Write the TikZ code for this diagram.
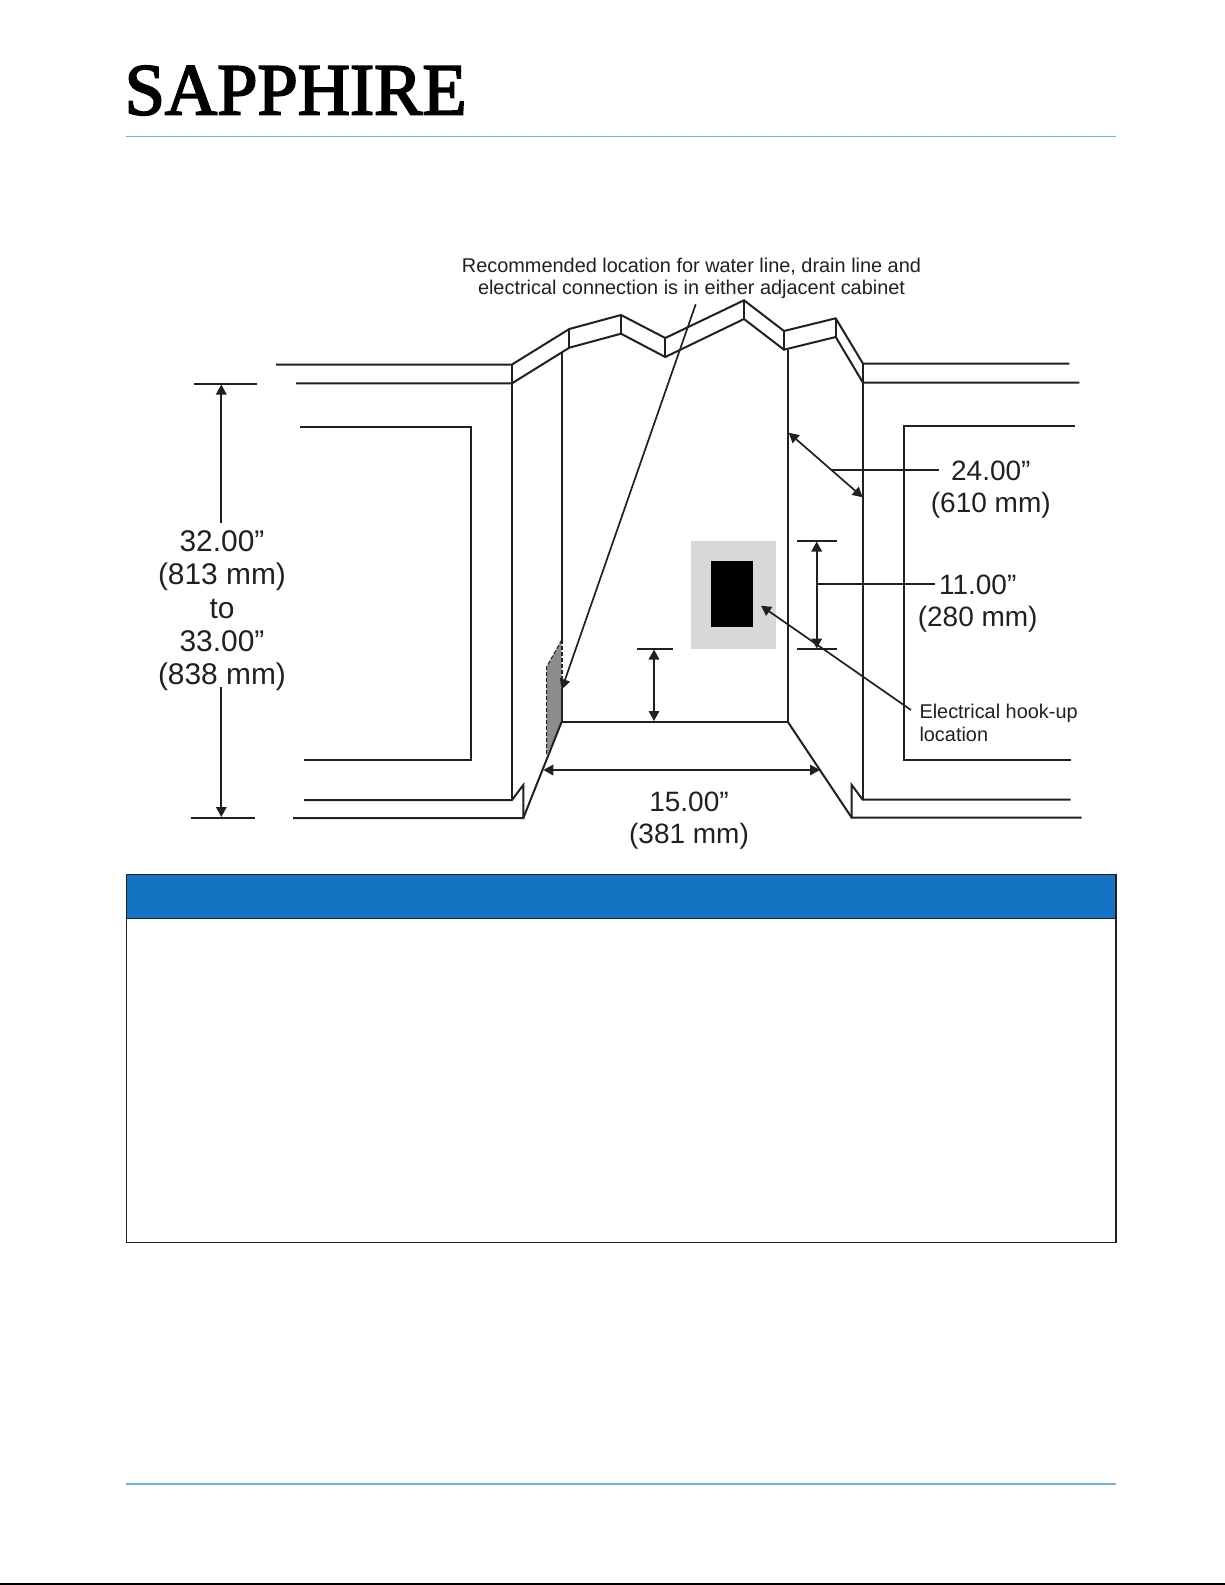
\documentclass[tikz,border=0pt]{standalone}
\usepackage{fontspec}
\setmainfont{Liberation Sans}
\newfontfamily\logofont[FakeBold=2.6]{Liberation Serif}
\usetikzlibrary{arrows.meta}
\definecolor{ink}{HTML}{231F20}
\definecolor{rule}{HTML}{6FB0E8}
\definecolor{band}{HTML}{1573C4}
\definecolor{pale}{HTML}{D8D8D8}
\definecolor{patch}{HTML}{8C8C8C}
\tikzset{
  wall/.style={draw=ink,line width=2pt,line cap=butt,line join=miter},
  dim/.style={draw=ink,line width=1.7pt,{Triangle[length=10pt,width=10.5pt]}-{Triangle[length=10pt,width=10.5pt]}},
  one/.style={draw=ink,line width=1.7pt,-{Triangle[length=10pt,width=10.5pt]}},
  lead/.style={draw=ink,line width=1.7pt},
  tick/.style={draw=ink,line width=1.8pt},
  bigtxt/.style={text=ink,inner sep=0pt,align=center,font=\fontsize{29.9}{33.4}\selectfont},
  midtxt/.style={text=ink,inner sep=0pt,align=center,font=\fontsize{28.0}{32.2}\selectfont},
  smalltxt/.style={text=ink,inner sep=0pt,font=\fontsize{19.9}{22.4}\selectfont},
}
\begin{document}
\begin{tikzpicture}[x=1pt,y=-1pt]
\useasboundingbox (0,0) rectangle (1225,1585);
% logo and page rules
\node[inner sep=0pt,anchor=base west,text=black] (logo) at (124.5,114.5)
  {\scalebox{0.985}[1]{\logofont\fontsize{73.5}{73.5}\selectfont SAPPHIRE}};
\draw[rule,line width=1.2pt] (126,136.7) -- (1116,136.7);
\draw[rule,line width=1.2pt] (126,1484) -- (1116,1484);
\draw[black,line width=1.6pt] (0,1584.2) -- (1225,1584.2);
% patch and hook-up box
\fill[pale] (690.7,541.3) rectangle (776.3,649);
\fill[black] (711,561) rectangle (753,626.7);
\fill[patch] (561.7,640) -- (546.7,666.7) -- (546.7,755) -- (561.7,721.7) -- cycle;
\draw[draw=ink,line width=1pt,dash pattern=on 4pt off 2pt] (561.7,640) -- (546.7,666.7) -- (546.7,755);
\draw[draw=ink,line width=2pt,dash pattern=on 4pt off 2pt] (561.7,640) -- (561.7,690);
% counter
\draw[wall] (276,364.5) -- (512,364.5) -- (569.3,329) -- (621,315) -- (665.3,338) -- (744,300.3) -- (784,331) -- (835.7,318.3) -- (863,363.7) -- (1069.3,363.7);
\draw[wall] (296,383.3) -- (512,383.3) -- (569.3,347.7) -- (621,333.7) -- (665.3,357) -- (744,319) -- (784,349.7) -- (835.7,337) -- (863,382.7) -- (1079.3,382.7);
\draw[wall] (512,364.5) -- (512,800);
\draw[wall] (569.3,329) -- (569.3,347.7);
\draw[wall] (621,315) -- (621,333.7);
\draw[wall] (665.3,338) -- (665.3,357);
\draw[wall] (744,300.3) -- (744,319);
\draw[wall] (784,331) -- (784,349.7);
\draw[wall] (835.7,318.3) -- (835.7,337);
\draw[wall] (863,363.7) -- (863,800);
% opening
\draw[wall] (561.7,352.7) -- (561.7,640);
\draw[wall] (561.7,690) -- (561.7,721.7) -- (787.7,721.7) -- (787.7,349.7);
\draw[wall] (561.7,721.7) -- (523.3,818);
\draw[wall] (787.7,721.7) -- (851.7,817.7);
% toe kicks
\draw[wall] (304,800) -- (512,800) -- (523.3,785) -- (523.3,818) -- (293,818);
\draw[wall] (1070.7,799.7) -- (862.7,799.7) -- (851.7,785) -- (851.7,817.7) -- (1081.7,817.7);
% side doors
\draw[wall] (300,426.7) -- (471,426.7) -- (471,759.7) -- (304,759.7);
\draw[wall] (1075,426) -- (903.7,426) -- (903.7,759.7) -- (1070.7,759.7);
% height dimension
\draw[tick] (194,383.7) -- (257,383.7);
\draw[tick] (191,817.7) -- (255,817.7);
\draw[one] (221.3,522.7) -- (221.3,384.5);
\draw[one] (221.3,687.3) -- (221.3,817);
\node[bigtxt,anchor=north] (htxt) at (222,530.3) {32.00”\\(813 mm)\\to\\33.00”\\(838 mm)};
% 24
\coordinate (d24a) at (788.7,432.7);
\coordinate (d24b) at (862.7,497.3);
\draw[dim] (d24a) -- (d24b);
\draw[lead] (831.7,470) -- (939.3,470);
\node[midtxt,anchor=north] (t24) at (990.8,460.3) {24.00”\\(610 mm)};
% 11
\draw[tick] (797.3,540.7) -- (836.7,540.7);
\draw[tick] (797.3,649) -- (836.7,649);
\draw[dim] (816.7,541.5) -- (816.7,648.5);
\draw[lead] (816.7,583.7) -- (935,583.7);
\node[midtxt,anchor=north] (t11) at (977.7,574.7) {11.00”\\(280 mm)};
% clearance
\draw[tick] (637,649) -- (673,649);
\draw[dim] (654,649.5) -- (654,721);
% 15
\draw[dim] (543.3,770) -- (820,770);
\node[midtxt,anchor=north] (t15) at (689,791.7) {15.00”\\(381 mm)};
% notes
\node[smalltxt,align=center,anchor=north] (rec) at (691.5,257.5) {Recommended location for water line, drain line and\\electrical connection is in either adjacent cabinet};
\draw[one] (695.7,304.3) -- (561.7,689.3);
\node[smalltxt,align=left,anchor=north west] (hook) at (919.3,704) {Electrical hook-up\\location};
\draw[one] (911,710) -- (761,605.7);
% table
\fill[band] (126.5,874.3) rectangle (1116,918.3);
\draw[draw=ink,line width=1.3pt] (126.5,874.3) rectangle (1116,1242.3);
\draw[draw=ink,line width=1.3pt] (126.5,918.3) -- (1116,918.3);
\end{tikzpicture}
\end{document}
